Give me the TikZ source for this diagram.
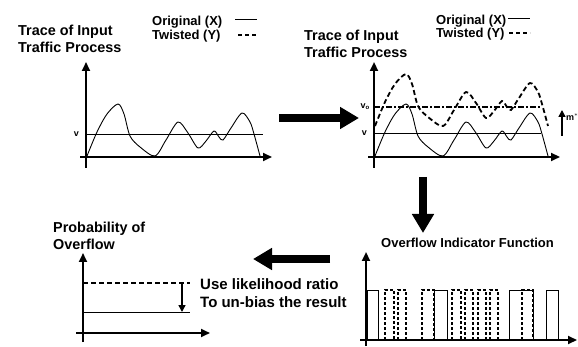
\documentclass[tikz,border=0pt]{standalone}
\usepackage{fontspec}
\setmainfont{Liberation Sans}
\usetikzlibrary{arrows.meta}
\begin{document}
\begin{tikzpicture}[x=1pt,y=-1pt,
  ax/.style={line width=2.2pt,-{Triangle[length=9pt,width=8pt]}},
  thinl/.style={line width=0.9pt},
  curve/.style={line width=0.9pt},
  twist/.style={line width=1.8pt,dash pattern=on 5pt off 3pt},
  dashdot/.style={line width=1.4pt,dash pattern=on 6pt off 2pt on 2pt off 2pt},
  big/.style={line width=7.5pt,-{Triangle[length=19pt,width=21pt]}},
  small/.style={line width=1.5pt,-{Triangle[length=7pt,width=7pt]}},
  title/.style={font=\fontsize{14.4}{17}\selectfont\bfseries,inner sep=0pt,anchor=base west},
  leg/.style={font=\fontsize{13}{15}\selectfont\bfseries,inner sep=0pt,anchor=base west},
  tiny/.style={font=\fontsize{9}{10}\selectfont\bfseries,inner sep=0pt},
  pulse/.style={line width=0.9pt},
  dpulse/.style={line width=1.3pt,dash pattern=on 3pt off 2pt}]
\useasboundingbox (0,0) rectangle (578,347);

% ---------- top-left panel ----------
\node[title] (t1a) at (18,36) {Trace of Input};
\node[title] (t1b) at (18,53) {Traffic Process};
\node[leg] (l1a) at (152,26) {Original (X)};
\node[leg] (l1b) at (152,40) {Twisted (Y)};
\coordinate (l1as) at (235,19); \coordinate (l1ae) at (257,19);
\coordinate (l1bs) at (238,35); \coordinate (l1be) at (257,35);
\draw[thinl] (l1as) -- (l1ae);
\draw[line width=1.8pt,dash pattern=on 4pt off 3pt] (l1bs) -- (l1be);
\coordinate (y1s) at (86,168); \coordinate (y1e) at (86,62);
\coordinate (x1s) at (80,157); \coordinate (x1e) at (272,157);
\draw[ax] (y1s) -- (y1e);
\draw[ax] (x1s) -- (x1e);
\coordinate (v1s) at (86,134); \coordinate (v1e) at (263,134);
\draw[thinl] (v1s) -- (v1e);
\node[tiny,anchor=east] (v1) at (79,134) {v};
\draw[curve] plot[smooth,tension=0.5] coordinates {(87,156) (97,132) (107,114) (118,104) (124,114) (130,136) (140,147) (155,156) (166,140) (178,122) (188,133) (198,148) (206,141) (214,131) (219,137) (223,140) (231,128) (242,113) (250,122) (254,134) (260,156)};

% ---------- arrow right ----------
\coordinate (a1s) at (279,118); \coordinate (a1e) at (359,118);
\draw[big] (a1s) -- (a1e);

% ---------- top-right panel ----------
\node[title] (t2a) at (304,41) {Trace of Input};
\node[title] (t2b) at (304,58) {Traffic Process};
\node[leg] (l2a) at (436,25) {Original (X)};
\node[leg] (l2b) at (436,38) {Twisted (Y)};
\coordinate (l2as) at (508,18); \coordinate (l2ae) at (530,18);
\coordinate (l2bs) at (509,33); \coordinate (l2be) at (530,33);
\draw[thinl] (l2as) -- (l2ae);
\draw[line width=1.8pt,dash pattern=on 4pt off 3pt] (l2bs) -- (l2be);
\coordinate (y2s) at (374,168); \coordinate (y2e) at (374,62);
\coordinate (x2s) at (368,157); \coordinate (x2e) at (560,157);
\draw[ax] (y2s) -- (y2e);
\draw[ax] (x2s) -- (x2e);
\coordinate (v2s) at (374,133); \coordinate (v2e) at (541,133);
\draw[thinl] (v2s) -- (v2e);
\coordinate (v0s) at (374,107); \coordinate (v0e) at (541,107);
\draw[dashdot] (v0s) -- (v0e);
\node[tiny,anchor=east] (v2) at (367,133) {v};
\node[tiny,anchor=east] (v0) at (370,107) {v$_\mathbf{o}$};
\begin{scope}[shift={(288,0)}]
\draw[curve] plot[smooth,tension=0.5] coordinates {(87,156) (97,132) (107,114) (118,104) (124,114) (130,136) (140,147) (155,156) (166,140) (178,122) (188,133) (198,148) (206,141) (214,131) (219,137) (223,140) (231,128) (242,113) (250,122) (254,134) (260,156)};
\end{scope}
\begin{scope}[shift={(288,-30)}]
\draw[twist] plot[smooth,tension=0.5] coordinates {(87,156) (97,132) (107,114) (118,104) (124,114) (130,136) (140,147) (155,156) (166,140) (178,122) (188,133) (198,148) (206,141) (214,131) (219,137) (223,140) (231,128) (242,113) (250,122) (254,134) (260,156)};
\end{scope}
\coordinate (ms) at (562,136); \coordinate (me) at (562,110);
\draw[small] (ms) -- (me);
\node[tiny,anchor=west] (m) at (566,117) {m$^*$};

% ---------- arrow down ----------
\coordinate (a2s) at (423,177); \coordinate (a2e) at (423,233);
\draw[big] (a2s) -- (a2e);

% ---------- bottom-right panel ----------
\node[leg] (t3) at (381,248) {Overflow Indicator Function};
\coordinate (y3s) at (366,346); \coordinate (y3e) at (366,252);
\coordinate (x3s) at (360,340); \coordinate (x3e) at (577,340);
\draw[ax] (y3s) -- (y3e);
\draw[ax] (x3s) -- (x3e);
\foreach \a/\b in {367/378,434/447,509/533,546/558}
  \draw[pulse] (\a,340) -- (\a,290) -- (\b,290) -- (\b,340);
\foreach \a/\b in {385/394,398/406,422/434,452/461,465/473,478/486,490/498,522/533}
  \draw[dpulse] (\a,340) -- (\a,290) -- (\b,290) -- (\b,340);

% ---------- arrow left ----------
\coordinate (a3s) at (330,259); \coordinate (a3e) at (253,259);
\draw[big] (a3s) -- (a3e);

% ---------- bottom-left panel ----------
\node[title] (t4a) at (53,233) {Probability of};
\node[title] (t4b) at (53,250) {Overflow};
\coordinate (y4s) at (83,342); \coordinate (y4e) at (83,253);
\coordinate (x4s) at (76,333); \coordinate (x4e) at (210,333);
\draw[ax] (y4s) -- (y4e);
\draw[ax] (x4s) -- (x4e);
\coordinate (d4s) at (83,283); \coordinate (d4e) at (190,283);
\draw[line width=1.3pt,dash pattern=on 5pt off 3pt] (d4s) -- (d4e);
\coordinate (s4s) at (83,312); \coordinate (s4e) at (190,312);
\draw[thinl] (s4s) -- (s4e);
\coordinate (ubs) at (182,283); \coordinate (ube) at (182,312);
\draw[small] (ubs) -- (ube);
\node[title,font=\fontsize{15}{17}\selectfont\bfseries] (u1) at (200,290) {Use likelihood ratio};
\node[title,font=\fontsize{15}{17}\selectfont\bfseries] (u2) at (200,307) {To un-bias the result};
\end{tikzpicture}
\end{document}
